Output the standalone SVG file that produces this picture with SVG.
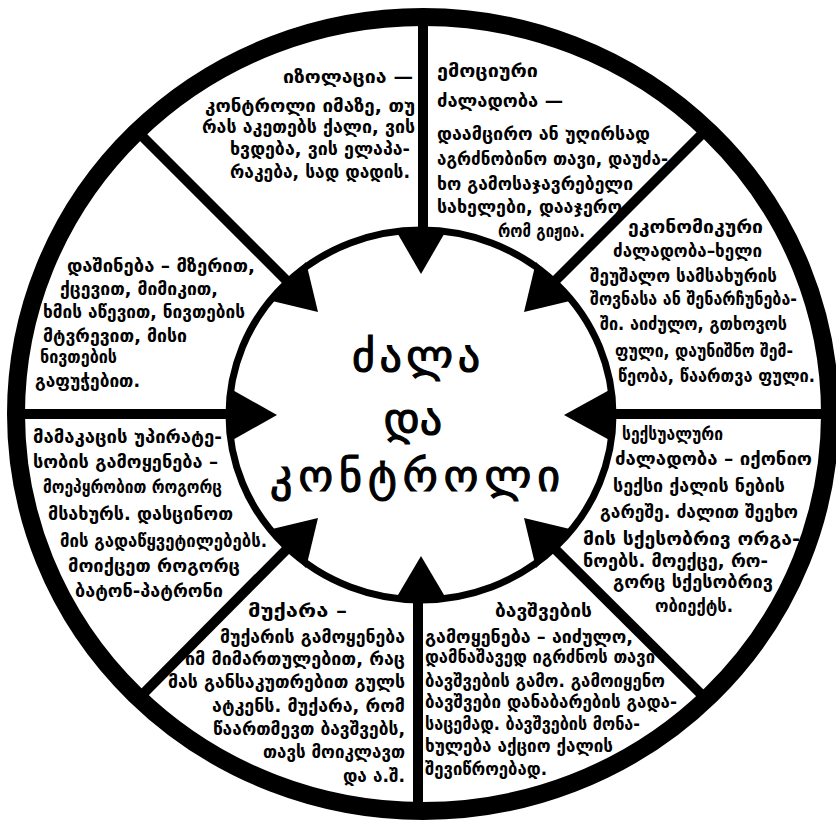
<svg xmlns="http://www.w3.org/2000/svg" width="836" height="820" viewBox="0 0 836 820">
<style>
.t{font-family:"DejaVu Sans",sans-serif;font-size:17.5px;font-weight:bold;fill:#000}
.title{font-family:"DejaVu Sans",sans-serif;font-size:44px;fill:#000;stroke:#000;stroke-width:1.2}
.sp{stroke:#000;stroke-width:10;fill:none}
.ar{fill:#000}
</style>
<rect width="836" height="820" fill="#fff"/>
<g id="connectors">
<line class="sp" x1="423" y1="229" x2="423" y2="15"/>
<line class="sp" x1="418" y1="600" x2="418" y2="815"/>
<line class="sp" x1="229" y1="414" x2="12" y2="414"/>
<line class="sp" x1="613" y1="414" x2="832" y2="414"/>
<line class="sp" x1="287" y1="281" x2="135" y2="129"/>
<line class="sp" x1="555" y1="281" x2="707" y2="129"/>
<line class="sp" x1="555" y1="549" x2="707" y2="700"/>
<line class="sp" x1="287" y1="549" x2="137" y2="700"/>
<polygon class="ar" points="395,229 447,229 421,274"/>
<polygon class="ar" points="395,600 447,600 421,556"/>
<polygon class="ar" points="229,388 229,442 277,415"/>
<polygon class="ar" points="613,388 613,442 564,415"/>
<polygon class="ar" points="306,262 268,300 318,312"/>
<polygon class="ar" points="536,262 574,300 524,312"/>
<polygon class="ar" points="574,530 536,568 524,518"/>
<polygon class="ar" points="268,530 306,568 318,518"/>
</g>
<g id="wheel">
<ellipse cx="423" cy="414" rx="407" ry="397" fill="none" stroke="#000" stroke-width="18"/>
<ellipse cx="421" cy="415" rx="192" ry="185" fill="none" stroke="#000" stroke-width="7"/>
</g>
<g id="center">
<text class="title" x="352" y="371" textLength="128" lengthAdjust="spacing">ძალა</text>
<text class="title" x="413" y="434" text-anchor="middle">და</text>
<text class="title" x="270" y="491" textLength="290" lengthAdjust="spacing">კონტროლი</text>
</g>
<g id="isolation">
<text class="t" x="283" y="83" textLength="130" lengthAdjust="spacingAndGlyphs">იზოლაცია —</text>
<text class="t" x="205" y="112" textLength="210" lengthAdjust="spacingAndGlyphs">კონტროლი იმაზე, თუ</text>
<text class="t" x="202" y="133" textLength="213" lengthAdjust="spacingAndGlyphs">რას აკეთებს ქალი, ვის</text>
<text class="t" x="230" y="155" textLength="180" lengthAdjust="spacingAndGlyphs">ხვდება, ვის ელაპა-</text>
<text class="t" x="230" y="178" textLength="180" lengthAdjust="spacingAndGlyphs">რაკება, სად დადის.</text>
</g>
<g id="emotional">
<text class="t" x="437" y="77" textLength="101" lengthAdjust="spacingAndGlyphs">ემოციური</text>
<text class="t" x="437" y="107" textLength="126" lengthAdjust="spacingAndGlyphs">ძალადობა —</text>
<text class="t" x="437" y="140" textLength="213" lengthAdjust="spacingAndGlyphs">დაამცირო ან უღირსად</text>
<text class="t" x="437" y="165" textLength="231" lengthAdjust="spacingAndGlyphs">აგრძნობინო თავი, დაუძა-</text>
<text class="t" x="437" y="190" textLength="196" lengthAdjust="spacingAndGlyphs">ხო გამოსაჯავრებელი</text>
<text class="t" x="437" y="213" textLength="185" lengthAdjust="spacingAndGlyphs">სახელები, დააჯერო</text>
<text class="t" x="498" y="237" textLength="87" lengthAdjust="spacingAndGlyphs">რომ გიჟია.</text>
</g>
<g id="economic">
<text class="t" x="628" y="233" textLength="135" lengthAdjust="spacingAndGlyphs">ეკონომიკური</text>
<text class="t" x="613" y="257" textLength="149" lengthAdjust="spacingAndGlyphs">ძალადობა–ხელი</text>
<text class="t" x="590" y="282" textLength="187" lengthAdjust="spacingAndGlyphs">შეუშალო სამსახურის</text>
<text class="t" x="590" y="305" textLength="207" lengthAdjust="spacingAndGlyphs">შოვნასა ან შენარჩუნება-</text>
<text class="t" x="600" y="330" textLength="187" lengthAdjust="spacingAndGlyphs">ში. აიძულო, გთხოვოს</text>
<text class="t" x="615" y="357" textLength="178" lengthAdjust="spacingAndGlyphs">ფული, დაუნიშნო შემ-</text>
<text class="t" x="618" y="382" textLength="197" lengthAdjust="spacingAndGlyphs">წეობა, წაართვა ფული.</text>
</g>
<g id="sexual">
<text class="t" x="622" y="440" textLength="101" lengthAdjust="spacingAndGlyphs">სექსუალური</text>
<text class="t" x="615" y="465" textLength="197" lengthAdjust="spacingAndGlyphs">ძალადობა – იქონიო</text>
<text class="t" x="613" y="492" textLength="172" lengthAdjust="spacingAndGlyphs">სექსი ქალის ნების</text>
<text class="t" x="600" y="518" textLength="198" lengthAdjust="spacingAndGlyphs">გარეშე. ძალით შეეხო</text>
<text class="t" x="583" y="545" textLength="217" lengthAdjust="spacingAndGlyphs">მის სქესობრივ ორგა-</text>
<text class="t" x="583" y="567" textLength="185" lengthAdjust="spacingAndGlyphs">ნოებს. მოექცე, რო-</text>
<text class="t" x="613" y="588" textLength="160" lengthAdjust="spacingAndGlyphs">გორც სქესობრივ</text>
<text class="t" x="655" y="612" textLength="78" lengthAdjust="spacingAndGlyphs">ობიექტს.</text>
</g>
<g id="children">
<text class="t" x="495" y="617" textLength="97" lengthAdjust="spacingAndGlyphs">ბავშვების</text>
<text class="t" x="425" y="643" textLength="208" lengthAdjust="spacingAndGlyphs">გამოყენება – აიძულო,</text>
<text class="t" x="425" y="663" textLength="230" lengthAdjust="spacingAndGlyphs">დამნაშავედ იგრძნოს თავი</text>
<text class="t" x="425" y="687" textLength="240" lengthAdjust="spacingAndGlyphs">ბავშვების გამო. გამოიყენო</text>
<text class="t" x="425" y="708" textLength="252" lengthAdjust="spacingAndGlyphs">ბავშვები დანაბარების გადა-</text>
<text class="t" x="425" y="730" textLength="215" lengthAdjust="spacingAndGlyphs">საცემად. ბავშვების მონა-</text>
<text class="t" x="425" y="752" textLength="188" lengthAdjust="spacingAndGlyphs">ხულება აქციო ქალის</text>
<text class="t" x="425" y="775" textLength="122" lengthAdjust="spacingAndGlyphs">შევიწროებად.</text>
</g>
<g id="threats">
<text class="t" x="248" y="617" textLength="99" lengthAdjust="spacingAndGlyphs">მუქარა –</text>
<text class="t" x="220" y="643" textLength="185" lengthAdjust="spacingAndGlyphs">მუქარის გამოყენება</text>
<text class="t" x="185" y="665" textLength="220" lengthAdjust="spacingAndGlyphs">იმ მიმართულებით, რაც</text>
<text class="t" x="168" y="688" textLength="237" lengthAdjust="spacingAndGlyphs">მას განსაკუთრებით გულს</text>
<text class="t" x="212" y="712" textLength="193" lengthAdjust="spacingAndGlyphs">ატკენს. მუქარა, რომ</text>
<text class="t" x="213" y="735" textLength="192" lengthAdjust="spacingAndGlyphs">წაართმევთ ბავშვებს,</text>
<text class="t" x="263" y="758" textLength="142" lengthAdjust="spacingAndGlyphs">თავს მოიკლავთ</text>
<text class="t" x="343" y="782" textLength="62" lengthAdjust="spacingAndGlyphs">და ა.შ.</text>
</g>
<g id="privilege">
<text class="t" x="33" y="443" textLength="189" lengthAdjust="spacingAndGlyphs">მამაკაცის უპირატე-</text>
<text class="t" x="33" y="468" textLength="185" lengthAdjust="spacingAndGlyphs">სობის გამოყენება –</text>
<text class="t" x="43" y="493" textLength="179" lengthAdjust="spacingAndGlyphs">მოეპყრობით როგორც</text>
<text class="t" x="48" y="520" textLength="185" lengthAdjust="spacingAndGlyphs">მსახურს. დასცინოთ</text>
<text class="t" x="60" y="547" textLength="207" lengthAdjust="spacingAndGlyphs">მის გადაწყვეტილებებს.</text>
<text class="t" x="68" y="572" textLength="172" lengthAdjust="spacingAndGlyphs">მოიქცეთ როგორც</text>
<text class="t" x="75" y="597" textLength="148" lengthAdjust="spacingAndGlyphs">ბატონ-პატრონი</text>
</g>
<g id="intimidation">
<text class="t" x="67" y="272" textLength="188" lengthAdjust="spacingAndGlyphs">დაშინება – მზერით,</text>
<text class="t" x="60" y="295" textLength="158" lengthAdjust="spacingAndGlyphs">ქცევით, მიმიკით,</text>
<text class="t" x="43" y="318" textLength="202" lengthAdjust="spacingAndGlyphs">ხმის აწევით, ნივთების</text>
<text class="t" x="43" y="342" textLength="144" lengthAdjust="spacingAndGlyphs">მტვრევით, მისი</text>
<text class="t" x="40" y="363" textLength="77" lengthAdjust="spacingAndGlyphs">ნივთების</text>
<text class="t" x="35" y="387" textLength="105" lengthAdjust="spacingAndGlyphs">გაფუჭებით.</text>
</g>
</svg>
